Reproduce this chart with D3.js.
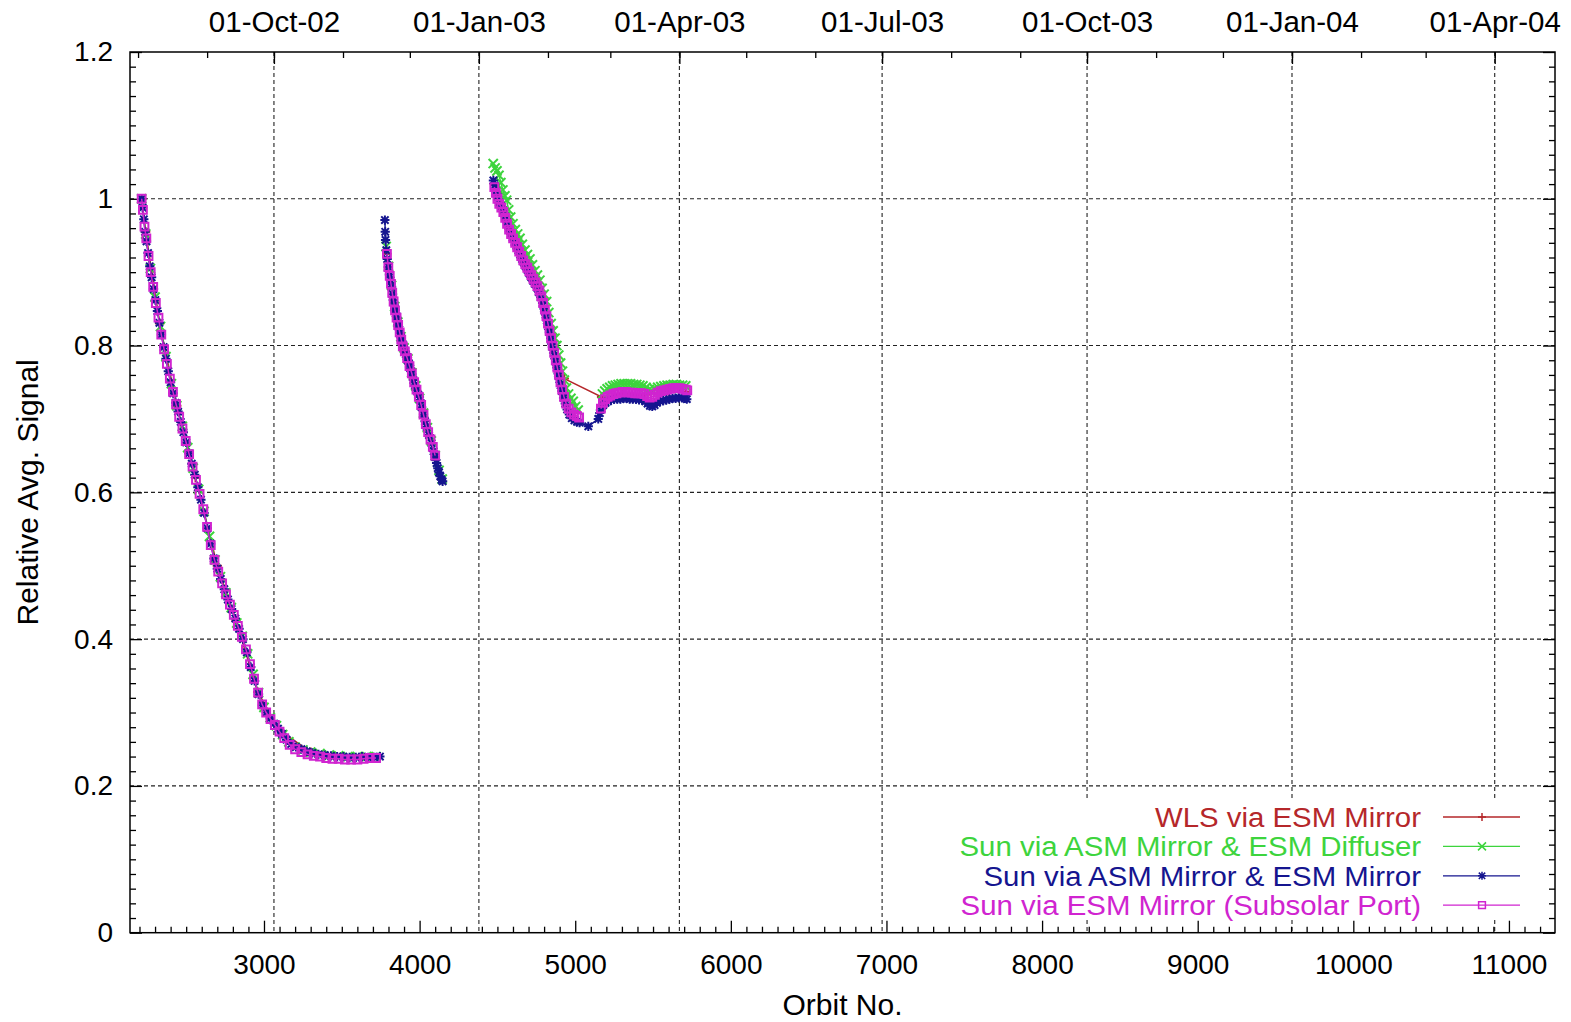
<!DOCTYPE html>
<html><head><meta charset="utf-8">
<script src="https://cdn.jsdelivr.net/npm/d3@7"></script>
<style>
body{margin:0;background:#fff}
text{font-family:"Liberation Sans",Arial,Helvetica,sans-serif;fill:#000}
</style>
</head><body>
<svg id="c" width="1571" height="1022"></svg>
<script>
// ---------------- DATA ----------------
const seriesNames = ["WLS via ESM Mirror","Sun via ASM Mirror & ESM Diffuser","Sun via ASM Mirror & ESM Mirror","Sun via ESM Mirror (Subsolar Port)"];
const seriesColors = ["#b5272a","#3dd43d","#15158f","#d024d0"];
const seriesMarkers = ["plus","cross","star","square"];

const xTickValues = [3000,4000,5000,6000,7000,8000,9000,10000,11000];
const yTickValues = [0,0.2,0.4,0.6,0.8,1.0,1.2];
const orbitRange = [2139, 11296];
const valueRange = [0, 1.2];
// date axis reference: orbit number on 01-Oct-02 and orbits per day
const refOrbit = 3064, refDateStr = "2002-10-01", orbitsPerDay = 14.315;

// null entries mark gaps in the measurements
const wlsOrbit = [2214,2240,2330,2440,2560,2700,2820,2960,3100,3300,3500,3700,null,
  3790,3860,3960,4060,4140,null,
  4480,4560,4650,4740,4830,4890,4930,5169,5300,5450,5600,5710];
const wlsValue = [1.000,0.955,0.830,0.718,0.620,0.500,0.425,0.328,0.276,0.246,0.240,0.239,null,
  0.925,0.832,0.754,0.678,0.618,null,
  1.020,0.970,0.928,0.887,0.826,0.765,0.755,0.730,0.735,0.733,0.738,0.737];

const diffOrbit = [2214,2240,2270,2300,2335,2370,2405,2440,2475,2510,2545,2580,2615,2650,2685,2720,2755,2790,2825,2860,2895,2930,2965,3000,3040,3080,3120,3160,3200,3250,3300,3360,3420,3480,3540,3600,3660,3720,null,
  3785,3800,3820,3840,3860,3880,3900,3925,3950,3975,4000,4025,4050,4075,4100,4125,4145,null,
  4473,4485,4497,4510,4522,4535,4548,4559,4572,4585,4600,4615,4630,4645,4660,4677,4693,4709,4725,4741,4757,4773,4787,4800,4816,4830,4845,4858,4870,4882,4894,4906,4918,4930,4943,4957,4972,4987,5003,5019,null,
  5175,5190,5205,5222,5240,5258,5276,5295,5315,5335,5355,5375,5395,5415,5435,5455,5475,5491,5510,5530,5550,5570,5590,5610,5630,5650,5670,5690,5710];
const diffValue = [1.000,0.952,0.905,0.866,0.826,0.785,0.748,0.718,0.690,0.661,0.633,0.604,0.574,0.540,0.508,0.485,0.463,0.443,0.422,0.404,0.380,0.352,0.327,0.307,0.293,0.282,0.270,0.260,0.253,0.249,0.246,0.244,0.242,0.241,0.240,0.240,0.240,0.240,null,
  0.935,0.908,0.882,0.853,0.832,0.812,0.797,0.782,0.763,0.745,0.728,0.708,0.688,0.670,0.650,0.630,0.618,null,
  1.048,1.042,1.038,1.032,1.022,1.012,1.004,0.998,0.985,0.975,0.966,0.958,0.952,0.946,0.938,0.930,0.924,0.918,0.910,0.902,0.896,0.889,0.878,0.870,0.860,0.845,0.830,0.820,0.810,0.800,0.787,0.776,0.765,0.753,0.742,0.734,0.728,0.724,0.717,0.712,null,
  0.734,0.738,0.741,0.743,0.745,0.746,0.747,0.748,0.748,0.748,0.748,0.747,0.747,0.746,0.745,0.743,0.740,0.739,0.741,0.743,0.744,0.745,0.746,0.746,0.747,0.747,0.746,0.746,0.745];

const mirOrbit = [2214,2220,2228,2236,2245,2255,2266,2278,2290,2302,2315,2328,2341,2355,2370,2385,2400,2416,2432,2448,2465,2482,2500,2518,2536,2555,2575,2595,2615,2636,2657,2678,2700,2722,2745,2768,2792,2816,2840,2865,2890,2915,2940,2965,2990,3015,3040,3065,3090,3115,3145,3175,3205,3240,3275,3310,3350,3390,3430,3470,3510,3550,3590,3630,3670,3710,3745,null,
  3777,3779,3781,3786,3792,3799,3806,3813,3820,3826,3831,3837,3842,3847,3852,3858,3863,3869,3874,3880,3885,3890,3895,3900,3906,3912,3917,3925,3932,3940,3950,3960,3970,3980,3991,4002,4013,4025,4035,4045,4060,4077,4090,4100,4109,4117,4125,4133,4141,4148,null,
  4474,4482,4490,4500,4510,4524,4538,4550,4562,4574,4586,4598,4610,4622,4634,4646,4658,4670,4682,4694,4706,4718,4730,4742,4754,4766,4778,4790,4800,4810,4818,4826,4834,4842,4850,4858,4866,4874,4882,4890,4898,4906,4915,4925,4936,4948,4962,4978,4995,5012,5028,5084,5148,5158,5168,5180,5195,5210,5230,5250,5270,5290,5310,5330,5350,5370,5390,5410,5430,5450,5465,5480,5495,5510,5525,5545,5565,5585,5605,5625,5645,5665,5685,5705,5717];
const mirValue = [1.000,0.988,0.972,0.955,0.942,0.926,0.908,0.893,0.877,0.862,0.847,0.831,0.815,0.798,0.782,0.765,0.750,0.735,0.722,0.710,0.696,0.682,0.668,0.653,0.639,0.624,0.607,0.590,0.572,0.551,0.530,0.510,0.496,0.482,0.468,0.454,0.441,0.428,0.414,0.400,0.382,0.362,0.343,0.325,0.310,0.300,0.292,0.285,0.278,0.271,0.263,0.257,0.253,0.250,0.247,0.245,0.243,0.242,0.241,0.240,0.240,0.239,0.239,0.240,0.239,0.239,0.240,null,
  0.971,0.955,0.944,0.930,0.918,0.907,0.897,0.889,0.880,0.870,0.862,0.855,0.849,0.844,0.839,0.833,0.828,0.822,0.817,0.811,0.806,0.802,0.798,0.795,0.792,0.788,0.785,0.780,0.775,0.769,0.761,0.753,0.746,0.739,0.733,0.726,0.716,0.706,0.697,0.689,0.678,0.667,0.656,0.648,0.640,0.633,0.627,0.622,0.617,0.615,null,
  1.025,1.018,1.010,1.003,0.995,0.990,0.984,0.976,0.968,0.959,0.952,0.947,0.941,0.936,0.930,0.924,0.918,0.913,0.908,0.903,0.898,0.893,0.888,0.884,0.879,0.873,0.866,0.858,0.850,0.842,0.834,0.826,0.818,0.810,0.802,0.794,0.786,0.778,0.770,0.762,0.754,0.746,0.738,0.729,0.721,0.713,0.706,0.701,0.698,0.696,0.695,0.690,0.700,0.708,0.714,0.719,0.722,0.724,0.726,0.727,0.727,0.727,0.728,0.728,0.727,0.727,0.727,0.726,0.726,0.724,0.721,0.718,0.717,0.719,0.722,0.724,0.725,0.726,0.727,0.728,0.728,0.729,0.729,0.728,0.727];

const subOrbit = [2214,2222,2232,2244,2258,2272,2288,2305,2322,2340,2358,2376,2395,2415,2435,2455,2476,2497,2519,2541,2563,2586,2610,2634,2658,2682,2706,2731,2756,2781,2806,2832,2858,2884,2910,2936,2962,2988,3014,3042,3070,3100,3130,3165,3200,3240,3280,3320,3360,3400,3440,3480,3520,3560,3600,3640,3680,3720,null,
  3790,3799,3808,3816,3824,3833,3842,3852,3862,3872,3882,3892,3905,3920,3935,3950,3965,3980,3995,4010,4025,4040,4055,4070,4085,4100,null,
  4480,4490,4500,4512,4525,4538,4550,4562,4575,4588,4601,4614,4627,4640,4653,4666,4679,4692,4705,4718,4731,4744,4757,4770,4782,4794,4805,4815,4825,4835,4845,4855,4865,4875,4885,4895,4905,4916,4928,4942,4958,4975,4992,5010,5025,null,
  5165,5178,5192,5208,5225,5245,5265,5285,5305,5325,5345,5365,5385,5405,5425,5445,5462,5478,5495,5512,5530,5550,5570,5590,5610,5630,5650,5670,5690,5710,5720];
const subValue = [1.000,0.985,0.962,0.946,0.922,0.900,0.880,0.858,0.838,0.815,0.795,0.775,0.755,0.737,0.720,0.703,0.687,0.670,0.652,0.635,0.617,0.598,0.577,0.553,0.528,0.508,0.492,0.476,0.461,0.447,0.433,0.418,0.403,0.386,0.366,0.346,0.327,0.311,0.300,0.291,0.283,0.274,0.265,0.256,0.250,0.246,0.243,0.241,0.240,0.238,0.237,0.237,0.236,0.236,0.236,0.237,0.238,0.238,null,
  0.925,0.907,0.895,0.884,0.872,0.860,0.848,0.838,0.828,0.818,0.808,0.799,0.792,0.783,0.772,0.762,0.750,0.740,0.730,0.719,0.706,0.693,0.682,0.672,0.662,0.650,null,
  1.016,1.008,1.000,0.993,0.988,0.982,0.974,0.966,0.958,0.952,0.946,0.940,0.934,0.928,0.922,0.916,0.911,0.906,0.901,0.896,0.891,0.886,0.881,0.875,0.867,0.858,0.849,0.840,0.830,0.820,0.810,0.800,0.790,0.780,0.770,0.760,0.750,0.740,0.730,0.721,0.714,0.709,0.706,0.704,0.702,null,
  0.714,0.722,0.727,0.730,0.732,0.734,0.735,0.736,0.737,0.737,0.736,0.736,0.735,0.735,0.735,0.734,0.731,0.729,0.730,0.733,0.736,0.738,0.739,0.740,0.741,0.742,0.742,0.742,0.741,0.740,0.739];

const seriesOrbits = [wlsOrbit, diffOrbit, mirOrbit, subOrbit];
const seriesValues = [wlsValue, diffValue, mirValue, subValue];

// ---------------- LAYOUT ----------------
const L = 130, R = 1555, T = 52, B = 932.7;
const FONT = 28, FONT_TOP = 29.5, FONT_LEG = 28, LEG_STRETCH = 1.05, FONT_TITLE = 30;
const svg = d3.select("#c");
svg.append("rect").attr("width",1571).attr("height",1022).attr("fill","#fff");

const x = d3.scaleLinear().domain(orbitRange).range([L,R]);
const y = d3.scaleLinear().domain(valueRange).range([B,T]);
const refDate = new Date(refDateStr + "T00:00:00Z").getTime();
const dateOf = o => new Date(refDate + (o - refOrbit) / orbitsPerDay * 864e5);
const x2 = d3.scaleUtc().domain(orbitRange.map(dateOf)).range([L,R]);

const quarterTicks = x2.ticks(d3.utcMonth.every(3));
const monthTicks = x2.ticks(d3.utcMonth.every(1));

// grid
const grid = svg.append("g").attr("stroke","#222").attr("stroke-width",1.1)
  .attr("stroke-dasharray","4,3").attr("fill","none");
yTickValues.filter(v => v > 0 && v < 1.2).forEach(v => {
  grid.append("line").attr("x1",L).attr("x2",R).attr("y1",y(v)).attr("y2",y(v));
});
quarterTicks.forEach(d => {
  grid.append("line").attr("x1",x2(d)).attr("x2",x2(d)).attr("y1",T).attr("y2",B);
});

// axes
function styleAxis(size){
  return g => {
    g.select(".domain").remove();
    g.selectAll("line").attr("stroke","#000").attr("stroke-width",1.3);
    g.selectAll("text").attr("font-size",size).attr("font-family","Liberation Sans, Arial, sans-serif").attr("fill","#000");
  };
}
const minorX = d3.range(2200, 11300, 100).filter(v => v % 1000 !== 0);
const minorY = d3.range(0, 61).map(i => i/50).filter(v => Math.abs(v*5 - Math.round(v*5)) > 1e-6);

svg.append("g").attr("transform",`translate(0,${B})`)
  .call(d3.axisBottom(x).tickValues(xTickValues).tickSize(-12).tickPadding(21).tickFormat(d3.format("d")))
  .call(styleAxis(FONT));
svg.append("g").attr("transform",`translate(0,${B})`)
  .call(d3.axisBottom(x).tickValues(minorX).tickSize(-6).tickFormat(""))
  .call(styleAxis(FONT));

svg.append("g").attr("transform",`translate(0,${T})`)
  .call(d3.axisTop(x2).tickValues(quarterTicks).tickSize(-12).tickPadding(20).tickFormat(d3.utcFormat("%d-%b-%y")))
  .call(styleAxis(FONT_TOP));
svg.append("g").attr("transform",`translate(0,${T})`)
  .call(d3.axisTop(x2).tickValues(monthTicks).tickSize(-6).tickFormat(""))
  .call(styleAxis(FONT_TOP));

const yFmt = d => String(+d.toFixed(1));
svg.append("g").attr("transform",`translate(${L},0)`)
  .call(d3.axisLeft(y).tickValues(yTickValues).tickSize(-12).tickPadding(17).tickFormat(yFmt))
  .call(styleAxis(FONT));
svg.append("g").attr("transform",`translate(${L},0)`)
  .call(d3.axisLeft(y).tickValues(minorY).tickSize(-6).tickFormat(""))
  .call(styleAxis(FONT));
svg.append("g").attr("transform",`translate(${R},0)`)
  .call(d3.axisRight(y).tickValues(yTickValues).tickSize(-12).tickFormat(""))
  .call(styleAxis(FONT));
svg.append("g").attr("transform",`translate(${R},0)`)
  .call(d3.axisRight(y).tickValues(minorY).tickSize(-6).tickFormat(""))
  .call(styleAxis(FONT));

// markers
function markerPath(type, s){
  switch(type){
    case "plus": return `M${-s},0H${s}M0,${-s}V${s}`;
    case "cross": return `M${-s},${-s}L${s},${s}M${-s},${s}L${s},${-s}`;
    case "star": return `M${-s},0H${s}M0,${-s}V${s}M${-s*0.8},${-s*0.8}L${s*0.8},${s*0.8}M${-s*0.8},${s*0.8}L${s*0.8},${-s*0.8}`;
    case "square": { const h = s*0.85; return `M${-h},${-h}H${h}V${h}H${-h}Z`; }
  }
}

// series
const plot = svg.append("g");
seriesNames.forEach((name, i) => {
  const pts = seriesOrbits[i].map((o, j) => ({o, v: seriesValues[i][j]}));
  const line = d3.line().defined(d => d.o != null && d.v != null).x(d => x(d.o)).y(d => y(d.v));
  plot.append("path").attr("d", line(pts)).attr("fill","none")
    .attr("stroke", seriesColors[i]).attr("stroke-width",1.5);
  plot.append("g").selectAll("path").data(pts.filter(d => d.o != null))
    .join("path")
    .attr("transform", d => `translate(${x(d.o)},${y(d.v)})`)
    .attr("d", markerPath(seriesMarkers[i], 4.6))
    .attr("fill","none").attr("stroke", seriesColors[i]).attr("stroke-width",2);
});

// legend (opaque key)
const lg = svg.append("g");
lg.append("rect").attr("x",952).attr("y",801).attr("width",586).attr("height",117).attr("fill","#fff");
seriesNames.forEach((name, i) => {
  const ly = 817 + i*29.4;
  lg.append("text").attr("transform",`translate(1421,${ly}) scale(${LEG_STRETCH},1)`).attr("dy","0.35em")
    .attr("text-anchor","end").attr("font-size",FONT_LEG).style("fill",seriesColors[i]).text(name);
  lg.append("line").attr("x1",1443).attr("x2",1520).attr("y1",ly).attr("y2",ly)
    .attr("stroke",seriesColors[i]).attr("stroke-width",1.3);
  lg.append("path").attr("transform",`translate(1482,${ly})`).attr("d",markerPath(seriesMarkers[i],4))
    .attr("fill","none").attr("stroke",seriesColors[i]).attr("stroke-width",1.5);
});

// frame
svg.append("rect").attr("x",L).attr("y",T).attr("width",R-L).attr("height",B-T)
  .attr("fill","none").attr("stroke","#000").attr("stroke-width",1.5);

// axis titles
svg.append("text").attr("x",(L+R)/2).attr("y",1015).attr("text-anchor","middle")
  .attr("font-size",FONT_TITLE).text("Orbit No.");
svg.append("text").attr("transform",`translate(38,${(T+B)/2}) rotate(-90)`).attr("text-anchor","middle")
  .attr("font-size",FONT_TITLE).text("Relative Avg. Signal");
</script>
</body></html>
